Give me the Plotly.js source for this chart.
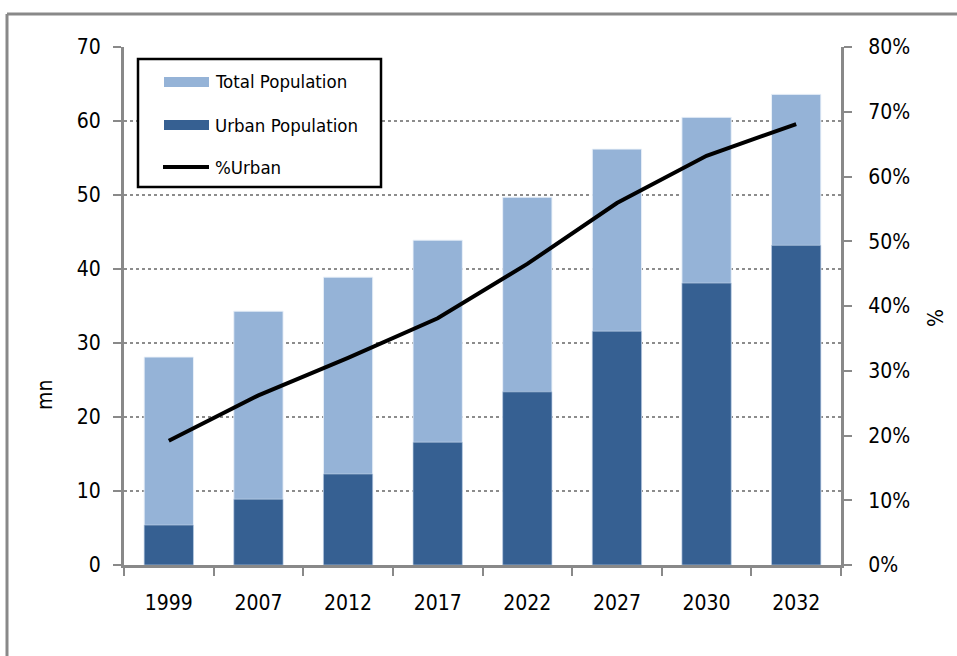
<!DOCTYPE html>
<html>
<head>
<meta charset="utf-8">
<script src="https://cdn.plot.ly/plotly-3.0.1.min.js"></script>
<style>
html,body{margin:0;padding:0;background:#fff;}
#chart{width:957px;height:656px;}
</style>
</head>
<body>
<div id="chart"></div>
<script>
const years = ["1999","2007","2012","2017","2022","2027","2030","2032"];
const totalPopulation = [28.1, 34.3, 38.9, 43.9, 49.7, 56.2, 60.5, 63.6];
const urbanPopulation = [5.4, 8.9, 12.3, 16.6, 23.4, 31.6, 38.1, 43.2];
const pctUrban = [19.2, 26.2, 32.0, 38.1, 46.5, 55.9, 63.2, 68.1];
const legendLabels = ["Total Population", "Urban Population", "%Urban"];
const axisTitles = ["mn", "%"];

const FONT = "DejaVu Sans Condensed, DejaVu Sans, sans-serif";
const GRAY = "#898989";

const traces = [
  {type:"bar", x:years, y:totalPopulation, name:legendLabels[0],
   marker:{color:"#95B3D7", line:{color:"rgba(235,242,250,0.9)", width:1}}, showlegend:false},
  {type:"bar", x:years, y:urbanPopulation, name:legendLabels[1],
   marker:{color:"#366092", line:{color:"rgba(200,215,235,0.6)", width:1}}, showlegend:false},
  {type:"scatter", mode:"lines", x:years, y:pctUrban, name:legendLabels[2], yaxis:"y2",
   line:{color:"#000", width:4}, showlegend:false}
];

// plot area: x 124..841, y 47..565
const W = 717, H = 518;
const px = v => (v-124)/W;
const py = v => (565-v)/H;

const shapes = [
  // outer frame
  {type:"line", xref:"paper", yref:"paper", x0:px(7), x1:px(1000), y0:py(14), y1:py(14), line:{color:GRAY, width:3}},
  {type:"line", xref:"paper", yref:"paper", x0:px(7), x1:px(7), y0:py(14), y1:py(700), line:{color:GRAY, width:3}},
  // legend box
  {type:"rect", xref:"paper", yref:"paper", x0:px(138), x1:px(381), y0:py(187), y1:py(59),
   fillcolor:"#fff", line:{color:"#000", width:2.5}, layer:"above"},
  {type:"rect", xref:"paper", yref:"paper", x0:px(164), x1:px(209), y0:py(87), y1:py(77),
   fillcolor:"#95B3D7", line:{width:0}, layer:"above"},
  {type:"rect", xref:"paper", yref:"paper", x0:px(164), x1:px(209), y0:py(130), y1:py(120),
   fillcolor:"#366092", line:{width:0}, layer:"above"},
  {type:"line", xref:"paper", yref:"paper", x0:px(163), x1:px(209), y0:py(167), y1:py(167),
   line:{color:"#000", width:4}, layer:"above"}
];

const annotations = legendLabels.map((t,i)=>({
  xref:"paper", yref:"paper", x:px(213), y:py([82,125,167][i]),
  xanchor:"left", yanchor:"middle", showarrow:false, text:t,
  font:{family:FONT, size:18.5, color:"#000"}
}));
annotations.push({xref:"paper", yref:"paper", x:px(45), y:py(395), xanchor:"center", yanchor:"middle",
  showarrow:false, text:axisTitles[0], textangle:-90, font:{family:FONT, size:21, color:"#000"}});
annotations.push({xref:"paper", yref:"paper", x:px(936), y:py(318), xanchor:"center", yanchor:"middle",
  showarrow:false, text:axisTitles[1], textangle:-90, font:{family:FONT, size:21, color:"#000"}});

const layout = {
  width:957, height:656,
  margin:{l:124, r:116, t:47, b:91},
  paper_bgcolor:"#fff", plot_bgcolor:"#fff",
  barmode:"overlay", bargap:0.45,
  font:{family:FONT, size:21, color:"#000"},
  showlegend:false,
  xaxis:{type:"category", showline:true, linecolor:GRAY, linewidth:3,
    ticks:"outside", tickson:"boundaries", ticklen:8, tickwidth:2, tickcolor:GRAY,
    ticklabelstandoff:17, showgrid:false, zeroline:false,
    tickfont:{family:FONT, size:21, color:"#000"}},
  yaxis:{range:[0,70], dtick:10, tick0:0, showline:true, linecolor:GRAY, linewidth:3,
    ticks:"outside", ticklen:8, tickwidth:2, tickcolor:GRAY, ticklabelstandoff:8,
    showgrid:true, gridcolor:"#8c8c8c", gridwidth:2, griddash:"dot", zeroline:false,
    tickfont:{family:FONT, size:21, color:"#000"}},
  yaxis2:{range:[0,80], dtick:10, tick0:0, overlaying:"y", side:"right",
    ticksuffix:"%", showline:true, linecolor:GRAY, linewidth:3,
    ticks:"outside", ticklen:8, tickwidth:2, tickcolor:GRAY, ticklabelstandoff:12,
    showgrid:false, zeroline:false,
    tickfont:{family:FONT, size:21, color:"#000"}},
  shapes:shapes,
  annotations:annotations
};

Plotly.newPlot("chart", traces, layout, {displayModeBar:false, staticPlot:true});
</script>
</body>
</html>
